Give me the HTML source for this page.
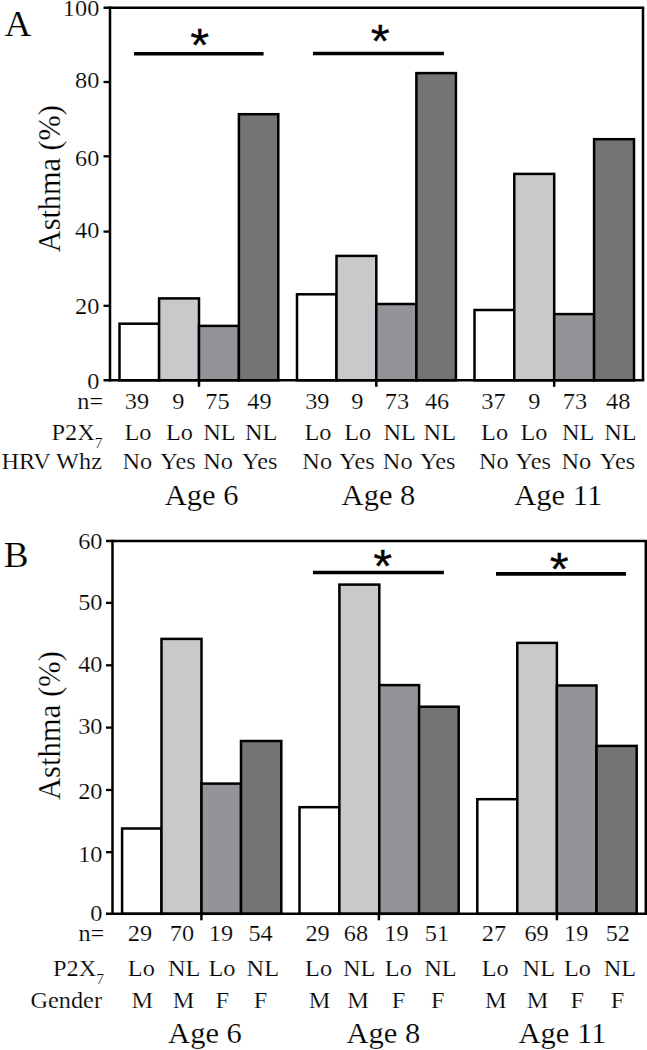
<!DOCTYPE html>
<html><head><meta charset="utf-8"><style>
html,body{margin:0;padding:0;background:#fff;width:647px;height:1050px;overflow:hidden;}
svg{display:block;font-family:"Liberation Serif", serif;}
text{fill:#000;stroke:#fff;stroke-width:0.2px;paint-order:fill stroke;}
.ast{font-family:"Liberation Sans",sans-serif;stroke:#000;stroke-width:0.3px;}
</style></head><body>
<svg width="647" height="1050" viewBox="0 0 647 1050">
<rect x="0" y="0" width="647" height="1050" fill="#fff"/>
<rect x="119.5" y="323.7" width="39.60" height="56.60" fill="#ffffff" stroke="#000" stroke-width="2.5"/>
<rect x="159.1" y="298.4" width="39.90" height="81.90" fill="#c8c9cb" stroke="#000" stroke-width="2.5"/>
<rect x="199" y="325.9" width="39.90" height="54.40" fill="#939497" stroke="#000" stroke-width="2.5"/>
<rect x="238.9" y="114.2" width="39.40" height="266.10" fill="#737476" stroke="#000" stroke-width="2.5"/>
<rect x="297" y="294.3" width="39.50" height="86.00" fill="#ffffff" stroke="#000" stroke-width="2.5"/>
<rect x="336.5" y="255.9" width="39.80" height="124.40" fill="#c8c9cb" stroke="#000" stroke-width="2.5"/>
<rect x="376.3" y="304" width="40.10" height="76.30" fill="#939497" stroke="#000" stroke-width="2.5"/>
<rect x="416.4" y="73.1" width="39.50" height="307.20" fill="#737476" stroke="#000" stroke-width="2.5"/>
<rect x="474.5" y="310" width="39.80" height="70.30" fill="#ffffff" stroke="#000" stroke-width="2.5"/>
<rect x="514.3" y="173.9" width="39.90" height="206.40" fill="#c8c9cb" stroke="#000" stroke-width="2.5"/>
<rect x="554.2" y="314.1" width="39.90" height="66.20" fill="#939497" stroke="#000" stroke-width="2.5"/>
<rect x="594.1" y="139.2" width="39.90" height="241.10" fill="#737476" stroke="#000" stroke-width="2.5"/>
<line x1="103.5" y1="7.8" x2="644.25" y2="7.8" stroke="#000" stroke-width="2.5"/>
<line x1="643" y1="7.8" x2="643" y2="380.3" stroke="#000" stroke-width="2.5"/>
<line x1="110" y1="6.55" x2="110" y2="381.55" stroke="#000" stroke-width="2.5"/>
<line x1="103.5" y1="380.3" x2="644.25" y2="380.3" stroke="#000" stroke-width="2.5"/>
<text transform="translate(99.3,15.6) scale(1.035,1)" font-size="23.5" text-anchor="end" >100</text>
<line x1="103.5" y1="82.0" x2="110" y2="82.0" stroke="#000" stroke-width="2.3"/>
<text transform="translate(99.3,88.2) scale(1.035,1)" font-size="23.5" text-anchor="end" >80</text>
<line x1="103.5" y1="156.3" x2="110" y2="156.3" stroke="#000" stroke-width="2.3"/>
<text transform="translate(99.3,165.5) scale(1.035,1)" font-size="23.5" text-anchor="end" >60</text>
<line x1="103.5" y1="231.6" x2="110" y2="231.6" stroke="#000" stroke-width="2.3"/>
<text transform="translate(99.3,238.4) scale(1.035,1)" font-size="23.5" text-anchor="end" >40</text>
<line x1="103.5" y1="305.8" x2="110" y2="305.8" stroke="#000" stroke-width="2.3"/>
<text transform="translate(99.3,313.8) scale(1.035,1)" font-size="23.5" text-anchor="end" >20</text>
<text transform="translate(99.3,389.2) scale(1.035,1)" font-size="23.5" text-anchor="end" >0</text>
<line x1="199" y1="380.3" x2="199" y2="386.8" stroke="#000" stroke-width="2.5"/>
<line x1="376.3" y1="380.3" x2="376.3" y2="386.8" stroke="#000" stroke-width="2.5"/>
<line x1="554.2" y1="380.3" x2="554.2" y2="386.8" stroke="#000" stroke-width="2.5"/>
<line x1="134" y1="53.7" x2="263.6" y2="53.7" stroke="#000" stroke-width="3.6"/>
<text class="ast" transform="translate(199.8,60.90) scale(1.035,1)" font-size="47" text-anchor="middle">*</text>
<line x1="313" y1="53.5" x2="443.9" y2="53.5" stroke="#000" stroke-width="3.6"/>
<text class="ast" transform="translate(380.3,57.00) scale(1.035,1)" font-size="47" text-anchor="middle">*</text>
<rect x="122.1" y="828.5" width="39.40" height="85.30" fill="#ffffff" stroke="#000" stroke-width="2.5"/>
<rect x="161.5" y="638.9" width="40.00" height="274.90" fill="#c8c9cb" stroke="#000" stroke-width="2.5"/>
<rect x="201.5" y="783.6" width="39.50" height="130.20" fill="#939497" stroke="#000" stroke-width="2.5"/>
<rect x="241" y="741" width="40.30" height="172.80" fill="#737476" stroke="#000" stroke-width="2.5"/>
<rect x="299.5" y="807.2" width="39.90" height="106.60" fill="#ffffff" stroke="#000" stroke-width="2.5"/>
<rect x="339.4" y="584.6" width="39.90" height="329.20" fill="#c8c9cb" stroke="#000" stroke-width="2.5"/>
<rect x="379.3" y="685.1" width="39.80" height="228.70" fill="#939497" stroke="#000" stroke-width="2.5"/>
<rect x="419.1" y="706.7" width="39.60" height="207.10" fill="#737476" stroke="#000" stroke-width="2.5"/>
<rect x="477.3" y="799.2" width="40.00" height="114.60" fill="#ffffff" stroke="#000" stroke-width="2.5"/>
<rect x="517.3" y="642.9" width="39.60" height="270.90" fill="#c8c9cb" stroke="#000" stroke-width="2.5"/>
<rect x="556.9" y="685.5" width="39.60" height="228.30" fill="#939497" stroke="#000" stroke-width="2.5"/>
<rect x="596.5" y="745.9" width="40.20" height="167.90" fill="#737476" stroke="#000" stroke-width="2.5"/>
<line x1="106.0" y1="540.9" x2="647.05" y2="540.9" stroke="#000" stroke-width="2.5"/>
<line x1="645.8" y1="540.9" x2="645.8" y2="913.8" stroke="#000" stroke-width="2.5"/>
<line x1="112.5" y1="539.65" x2="112.5" y2="915.05" stroke="#000" stroke-width="2.5"/>
<line x1="106.0" y1="913.8" x2="647.05" y2="913.8" stroke="#000" stroke-width="2.5"/>
<text transform="translate(102.5,548.5) scale(1.035,1)" font-size="23.5" text-anchor="end" >60</text>
<line x1="106.0" y1="602.9" x2="112.5" y2="602.9" stroke="#000" stroke-width="2.3"/>
<text transform="translate(102.5,609.6) scale(1.035,1)" font-size="23.5" text-anchor="end" >50</text>
<line x1="106.0" y1="665.3" x2="112.5" y2="665.3" stroke="#000" stroke-width="2.3"/>
<text transform="translate(102.5,671.7) scale(1.035,1)" font-size="23.5" text-anchor="end" >40</text>
<line x1="106.0" y1="727.6" x2="112.5" y2="727.6" stroke="#000" stroke-width="2.3"/>
<text transform="translate(102.5,734.1) scale(1.035,1)" font-size="23.5" text-anchor="end" >30</text>
<line x1="106.0" y1="790.0" x2="112.5" y2="790.0" stroke="#000" stroke-width="2.3"/>
<text transform="translate(102.5,798.9) scale(1.035,1)" font-size="23.5" text-anchor="end" >20</text>
<line x1="106.0" y1="852.2" x2="112.5" y2="852.2" stroke="#000" stroke-width="2.3"/>
<text transform="translate(102.5,861.6) scale(1.035,1)" font-size="23.5" text-anchor="end" >10</text>
<text transform="translate(102.5,920.7) scale(1.035,1)" font-size="23.5" text-anchor="end" >0</text>
<line x1="201.4" y1="913.8" x2="201.4" y2="920.3" stroke="#000" stroke-width="2.5"/>
<line x1="378.9" y1="913.8" x2="378.9" y2="920.3" stroke="#000" stroke-width="2.5"/>
<line x1="556.9" y1="913.8" x2="556.9" y2="920.3" stroke="#000" stroke-width="2.5"/>
<line x1="313" y1="572.5" x2="443.9" y2="572.5" stroke="#000" stroke-width="3.6"/>
<text class="ast" transform="translate(382.8,582.00) scale(1.035,1)" font-size="47" text-anchor="middle">*</text>
<line x1="496" y1="573.9" x2="626" y2="573.9" stroke="#000" stroke-width="3.6"/>
<text class="ast" transform="translate(559.2,584.70) scale(1.035,1)" font-size="47" text-anchor="middle">*</text>
<text transform="translate(4.5,36.2) scale(1.035,1)" font-size="36" text-anchor="start" >A</text>
<text transform="translate(3.7,567) scale(1.035,1)" font-size="36" text-anchor="start" >B</text>
<text transform="translate(60.0,178.7) rotate(-90) scale(0.96,1)" x="0" y="0" font-size="31.5" text-anchor="middle">Asthma (%)</text>
<text transform="translate(60.0,725.6) rotate(-90) scale(0.973,1)" x="0" y="0" font-size="31.5" text-anchor="middle">Asthma (%)</text>
<text transform="translate(103.2,408.5) scale(1.035,1)" font-size="23.5" text-anchor="end" >n=</text>
<text transform="translate(102.5,439.6) scale(1.035,1)" font-size="23.5" text-anchor="end">P2X<tspan font-size="15" dy="8">7</tspan></text>
<text transform="translate(102,469.3) scale(1.035,1)" font-size="23.5" text-anchor="end" >HRV Whz</text>
<text transform="translate(137,408.5) scale(1.035,1)" font-size="23.5" text-anchor="middle" >39</text>
<text transform="translate(138,439.6) scale(1.035,1)" font-size="23.5" text-anchor="middle" >Lo</text>
<text transform="translate(137.3,469.3) scale(1.035,1)" font-size="23.5" text-anchor="middle" >No</text>
<text transform="translate(178.3,408.5) scale(1.035,1)" font-size="23.5" text-anchor="middle" >9</text>
<text transform="translate(179.4,439.6) scale(1.035,1)" font-size="23.5" text-anchor="middle" >Lo</text>
<text transform="translate(178,469.3) scale(1.035,1)" font-size="23.5" text-anchor="middle" >Yes</text>
<text transform="translate(217.5,408.5) scale(1.035,1)" font-size="23.5" text-anchor="middle" >75</text>
<text transform="translate(219.4,439.6) scale(1.035,1)" font-size="23.5" text-anchor="middle" >NL</text>
<text transform="translate(218.1,469.3) scale(1.035,1)" font-size="23.5" text-anchor="middle" >No</text>
<text transform="translate(259.5,408.5) scale(1.035,1)" font-size="23.5" text-anchor="middle" >49</text>
<text transform="translate(261.1,439.6) scale(1.035,1)" font-size="23.5" text-anchor="middle" >NL</text>
<text transform="translate(259.8,469.3) scale(1.035,1)" font-size="23.5" text-anchor="middle" >Yes</text>
<text transform="translate(317.3,408.5) scale(1.035,1)" font-size="23.5" text-anchor="middle" >39</text>
<text transform="translate(318,439.6) scale(1.035,1)" font-size="23.5" text-anchor="middle" >Lo</text>
<text transform="translate(317.2,469.3) scale(1.035,1)" font-size="23.5" text-anchor="middle" >No</text>
<text transform="translate(357.3,408.5) scale(1.035,1)" font-size="23.5" text-anchor="middle" >9</text>
<text transform="translate(357.7,439.6) scale(1.035,1)" font-size="23.5" text-anchor="middle" >Lo</text>
<text transform="translate(357,469.3) scale(1.035,1)" font-size="23.5" text-anchor="middle" >Yes</text>
<text transform="translate(397,408.5) scale(1.035,1)" font-size="23.5" text-anchor="middle" >73</text>
<text transform="translate(399.7,439.6) scale(1.035,1)" font-size="23.5" text-anchor="middle" >NL</text>
<text transform="translate(397.7,469.3) scale(1.035,1)" font-size="23.5" text-anchor="middle" >No</text>
<text transform="translate(437.1,408.5) scale(1.035,1)" font-size="23.5" text-anchor="middle" >46</text>
<text transform="translate(439.8,439.6) scale(1.035,1)" font-size="23.5" text-anchor="middle" >NL</text>
<text transform="translate(437.8,469.3) scale(1.035,1)" font-size="23.5" text-anchor="middle" >Yes</text>
<text transform="translate(493.5,408.5) scale(1.035,1)" font-size="23.5" text-anchor="middle" >37</text>
<text transform="translate(494.6,439.6) scale(1.035,1)" font-size="23.5" text-anchor="middle" >Lo</text>
<text transform="translate(493.9,469.3) scale(1.035,1)" font-size="23.5" text-anchor="middle" >No</text>
<text transform="translate(534.4,408.5) scale(1.035,1)" font-size="23.5" text-anchor="middle" >9</text>
<text transform="translate(534,439.6) scale(1.035,1)" font-size="23.5" text-anchor="middle" >Lo</text>
<text transform="translate(533.3,469.3) scale(1.035,1)" font-size="23.5" text-anchor="middle" >Yes</text>
<text transform="translate(575,408.5) scale(1.035,1)" font-size="23.5" text-anchor="middle" >73</text>
<text transform="translate(578.2,439.6) scale(1.035,1)" font-size="23.5" text-anchor="middle" >NL</text>
<text transform="translate(576.3,469.3) scale(1.035,1)" font-size="23.5" text-anchor="middle" >No</text>
<text transform="translate(618.2,408.5) scale(1.035,1)" font-size="23.5" text-anchor="middle" >48</text>
<text transform="translate(620.5,439.6) scale(1.035,1)" font-size="23.5" text-anchor="middle" >NL</text>
<text transform="translate(617.5,469.3) scale(1.035,1)" font-size="23.5" text-anchor="middle" >Yes</text>
<text transform="translate(201.6,504.8) scale(1.035,1)" font-size="29.5" text-anchor="middle" >Age 6</text>
<text transform="translate(378.5,504.5) scale(1.035,1)" font-size="29.5" text-anchor="middle" >Age 8</text>
<text transform="translate(558.2,504.7) scale(1.035,1)" font-size="29.5" text-anchor="middle" >Age 11</text>
<text transform="translate(104.3,941.3) scale(1.035,1)" font-size="23.5" text-anchor="end" >n=</text>
<text transform="translate(104.0,975.7) scale(1.035,1)" font-size="23.5" text-anchor="end">P2X<tspan font-size="15" dy="8">7</tspan></text>
<text transform="translate(102,1008.3) scale(1.035,1)" font-size="23.5" text-anchor="end" >Gender</text>
<text transform="translate(140,941.3) scale(1.035,1)" font-size="23.5" text-anchor="middle" >29</text>
<text transform="translate(141.3,975.7) scale(1.035,1)" font-size="23.5" text-anchor="middle" >Lo</text>
<text transform="translate(142.3,1008.3) scale(1.035,1)" font-size="23.5" text-anchor="middle" >M</text>
<text transform="translate(182,941.3) scale(1.035,1)" font-size="23.5" text-anchor="middle" >70</text>
<text transform="translate(184.2,975.7) scale(1.035,1)" font-size="23.5" text-anchor="middle" >NL</text>
<text transform="translate(183.5,1008.3) scale(1.035,1)" font-size="23.5" text-anchor="middle" >M</text>
<text transform="translate(221,941.3) scale(1.035,1)" font-size="23.5" text-anchor="middle" >19</text>
<text transform="translate(222,975.7) scale(1.035,1)" font-size="23.5" text-anchor="middle" >Lo</text>
<text transform="translate(222.3,1008.3) scale(1.035,1)" font-size="23.5" text-anchor="middle" >F</text>
<text transform="translate(260.6,941.3) scale(1.035,1)" font-size="23.5" text-anchor="middle" >54</text>
<text transform="translate(262.8,975.7) scale(1.035,1)" font-size="23.5" text-anchor="middle" >NL</text>
<text transform="translate(260.6,1008.3) scale(1.035,1)" font-size="23.5" text-anchor="middle" >F</text>
<text transform="translate(317.6,941.3) scale(1.035,1)" font-size="23.5" text-anchor="middle" >29</text>
<text transform="translate(318.6,975.7) scale(1.035,1)" font-size="23.5" text-anchor="middle" >Lo</text>
<text transform="translate(319.6,1008.3) scale(1.035,1)" font-size="23.5" text-anchor="middle" >M</text>
<text transform="translate(356,941.3) scale(1.035,1)" font-size="23.5" text-anchor="middle" >68</text>
<text transform="translate(359.2,975.7) scale(1.035,1)" font-size="23.5" text-anchor="middle" >NL</text>
<text transform="translate(358,1008.3) scale(1.035,1)" font-size="23.5" text-anchor="middle" >M</text>
<text transform="translate(396.4,941.3) scale(1.035,1)" font-size="23.5" text-anchor="middle" >19</text>
<text transform="translate(398.3,975.7) scale(1.035,1)" font-size="23.5" text-anchor="middle" >Lo</text>
<text transform="translate(398.4,1008.3) scale(1.035,1)" font-size="23.5" text-anchor="middle" >F</text>
<text transform="translate(436.9,941.3) scale(1.035,1)" font-size="23.5" text-anchor="middle" >51</text>
<text transform="translate(440.4,975.7) scale(1.035,1)" font-size="23.5" text-anchor="middle" >NL</text>
<text transform="translate(437.8,1008.3) scale(1.035,1)" font-size="23.5" text-anchor="middle" >F</text>
<text transform="translate(493.9,941.3) scale(1.035,1)" font-size="23.5" text-anchor="middle" >27</text>
<text transform="translate(495.2,975.7) scale(1.035,1)" font-size="23.5" text-anchor="middle" >Lo</text>
<text transform="translate(495.9,1008.3) scale(1.035,1)" font-size="23.5" text-anchor="middle" >M</text>
<text transform="translate(536.6,941.3) scale(1.035,1)" font-size="23.5" text-anchor="middle" >69</text>
<text transform="translate(538.8,975.7) scale(1.035,1)" font-size="23.5" text-anchor="middle" >NL</text>
<text transform="translate(537.6,1008.3) scale(1.035,1)" font-size="23.5" text-anchor="middle" >M</text>
<text transform="translate(576.2,941.3) scale(1.035,1)" font-size="23.5" text-anchor="middle" >19</text>
<text transform="translate(577.5,975.7) scale(1.035,1)" font-size="23.5" text-anchor="middle" >Lo</text>
<text transform="translate(577.3,1008.3) scale(1.035,1)" font-size="23.5" text-anchor="middle" >F</text>
<text transform="translate(617.8,941.3) scale(1.035,1)" font-size="23.5" text-anchor="middle" >52</text>
<text transform="translate(620,975.7) scale(1.035,1)" font-size="23.5" text-anchor="middle" >NL</text>
<text transform="translate(617.4,1008.3) scale(1.035,1)" font-size="23.5" text-anchor="middle" >F</text>
<text transform="translate(205,1043.2) scale(1.035,1)" font-size="29.5" text-anchor="middle" >Age 6</text>
<text transform="translate(383.3,1042.8) scale(1.035,1)" font-size="29.5" text-anchor="middle" >Age 8</text>
<text transform="translate(562.4,1042.8) scale(1.035,1)" font-size="29.5" text-anchor="middle" >Age 11</text>
</svg>
</body></html>
